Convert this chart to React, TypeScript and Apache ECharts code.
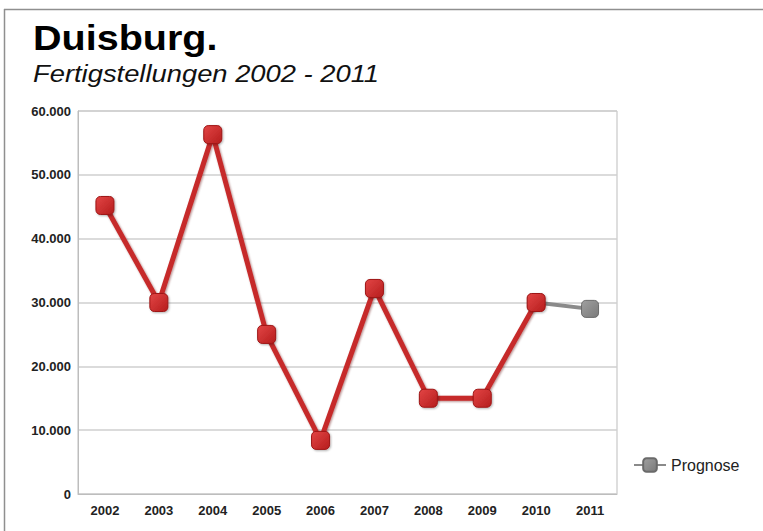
import React, { useEffect, useRef } from "react";
import * as echarts from "echarts";

const years = ["2002", "2003", "2004", "2005", "2006", "2007", "2008", "2009", "2010", "2011"];
const fertigstellungen = [45200, 30000, 56300, 25000, 8400, 32200, 15000, 15000, 30000, null];
const prognose = [null, null, null, null, null, null, null, null, 30000, 29000];
const yTicks = { min: 0, max: 60000, interval: 10000 };

const fmt = (v: number) => String(v).replace(/\B(?=(\d{3})+(?!\d))/g, ".");

export default function App() {
  const ref = useRef<HTMLDivElement>(null);
  useEffect(() => {
    if (!ref.current) return;
    const chart = echarts.init(ref.current, null, { renderer: "svg" });
    chart.setOption({
      animation: false,
      backgroundColor: "#ffffff",
      textStyle: { fontFamily: "Liberation Sans, Arial, sans-serif" },
      graphic: [
        { type: "line", shape: { x1: 4, y1: 9.5, x2: 763, y2: 9.5 }, style: { stroke: "#8f8f8f", lineWidth: 1.5 } },
        { type: "line", shape: { x1: 4.5, y1: 9, x2: 4.5, y2: 531 }, style: { stroke: "#8f8f8f", lineWidth: 1.5 } },
        {
          type: "text",
          x: 33,
          y: 38,
          scaleX: 1.13,
          style: {
            text: "Duisburg.",
            x: 0,
            y: 0,
            verticalAlign: "middle",
            align: "left",
            font: "bold 35px 'Liberation Sans', Arial, sans-serif",
            fill: "#000",
          },
        },
        {
          type: "text",
          x: 33,
          y: 74,
          scaleX: 1.14,
          style: {
            text: "Fertigstellungen 2002 - 2011",
            x: 0,
            y: 0,
            verticalAlign: "middle",
            align: "left",
            font: "italic 24px 'Liberation Sans', Arial, sans-serif",
            fill: "#111",
          },
        },
      ],
      grid: { left: 78, right: 146, top: 111, bottom: 37, show: true, borderColor: "#bdbdbd", borderWidth: 1 },
      legend: {
        data: ["Prognose"],
        left: 628,
        top: 452,
        itemWidth: 32,
        itemHeight: 17,
        itemGap: 8,
        textStyle: { fontSize: 16, color: "#222", fontFamily: "Liberation Sans, Arial, sans-serif" },
      },
      xAxis: {
        type: "category",
        data: years,
        boundaryGap: true,
        axisLine: { lineStyle: { color: "#bdbdbd" } },
        axisTick: { show: false },
        axisLabel: { color: "#222", fontWeight: "bold", fontSize: 13, margin: 10 },
      },
      yAxis: {
        type: "value",
        min: yTicks.min,
        max: yTicks.max,
        interval: yTicks.interval,
        axisLine: { show: true, lineStyle: { color: "#bdbdbd" } },
        axisTick: { show: false },
        splitLine: { lineStyle: { color: "#cfcfcf", width: 1.5 } },
        axisLabel: { color: "#222", fontWeight: "bold", fontSize: 13, margin: 7, formatter: (v: number) => fmt(v) },
      },
      series: [
        {
          name: "Prognose",
          type: "line",
          data: prognose,
          z: 2,
          symbol: "roundRect",
          symbolSize: 17,
          lineStyle: { color: "#8a8a8a", width: 4 },
          itemStyle: {
            color: new echarts.graphic.LinearGradient(0, 0, 1, 1, [
              { offset: 0, color: "#a0a0a0" },
              { offset: 1, color: "#7a7a7a" },
            ]),
            borderColor: "#6a6a6a",
            borderWidth: 1,
          },
        },
        {
          name: "Fertigstellungen",
          type: "line",
          data: fertigstellungen,
          z: 3,
          symbol: "roundRect",
          symbolSize: 18,
          showAllSymbol: true,
          lineStyle: {
            color: "#c62a2a",
            width: 5,
            shadowColor: "rgba(90,0,0,0.45)",
            shadowBlur: 2,
            shadowOffsetX: 1,
            shadowOffsetY: 1,
          },
          itemStyle: {
            color: new echarts.graphic.LinearGradient(0, 0, 1, 1, [
              { offset: 0, color: "#e34545" },
              { offset: 1, color: "#b51d1d" },
            ]),
            borderColor: "#9e1616",
            borderWidth: 1,
            shadowColor: "rgba(0,0,0,0.3)",
            shadowBlur: 2,
            shadowOffsetX: 1,
            shadowOffsetY: 1,
          },
        },
      ],
    });
    return () => chart.dispose();
  }, []);
  return (
    <div
      ref={ref}
      style={{ position: "absolute", left: 0, top: 0, width: 763, height: 531 }}
    />
  );
}
